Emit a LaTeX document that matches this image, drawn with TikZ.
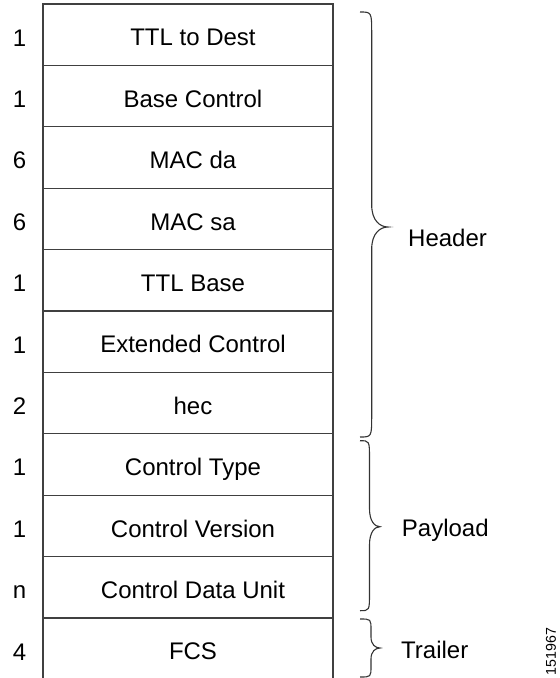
\documentclass[tikz,border=0pt]{standalone}
\usepackage{fontspec}
\setmainfont{Liberation Sans}
\newcommand\drawbrace[7]{% #1 x0, #2 ytop, #3 ybot, #4 xs, #5 xt, #6 ym, #7 r
  \draw[brc] (#1,#2) .. controls (#4,#2) .. (#4,{#2+#7}) -- (#4,{#6-#7})
    .. controls (#4,{#6-0.3*#7}) and ({#4+0.5*(#5-#4)},#6) .. (#5,#6)
    .. controls ({#4+0.5*(#5-#4)},#6) and (#4,{#6+0.3*#7}) .. (#4,{#6+#7})
    -- (#4,{#3-#7}) .. controls (#4,#3) .. (#1,#3);}
\begin{document}
\begin{tikzpicture}[x=1pt,y=-1pt]
\tikzset{
  rowbox/.style={draw=black!75, line width=1.2pt, minimum width=290pt, minimum height=61.4pt, inner sep=0pt, outer sep=0pt},
  lbl/.style={font=\fontsize{24}{28}\selectfont, inner sep=0pt, text height=17.2pt, text depth=0pt},
  side/.style={font=\fontsize{24}{28}\selectfont, inner sep=0pt, anchor=base west},
  brc/.style={draw=black!80, line width=1.1pt},
}
\useasboundingbox (0,0) rectangle (560,678);
\foreach \t/\n [count=\i from 0] in {TTL to Dest/1, Base Control/1, MAC da/6, MAC sa/6, TTL Base/1, Extended Control/1, hec/2, Control Type/1, Control Version/1, Control Data Unit/n, FCS/4}{
  \node[rowbox] (r\i) at (188,{4+61.4*(\i+0.5)}) {};
  \node[lbl] (t\i) at ([xshift=5pt,yshift=-2.6pt]r\i.center) {\t};
  \node[lbl] (n\i) at ([xshift=-23.5pt,yshift=-2.8pt]r\i.west) {\n};
}
\drawbrace{360}{12}{437}{371.7}{388}{227}{22}
\drawbrace{360}{440.7}{610.7}{369.5}{380}{526.7}{18}
\drawbrace{360}{619}{677}{371}{380}{648}{11}
\node[side] (hdr) at (408,246.5) {Header};
\node[side] (pay) at (401.7,536.5) {Payload};
\node[side] (trl) at (401,658.5) {Trailer};
\node[rotate=90, font=\fontsize{14.2}{16}\selectfont, inner sep=0pt] (fig) at (551,651.5) {151967};
\end{tikzpicture}
\end{document}
